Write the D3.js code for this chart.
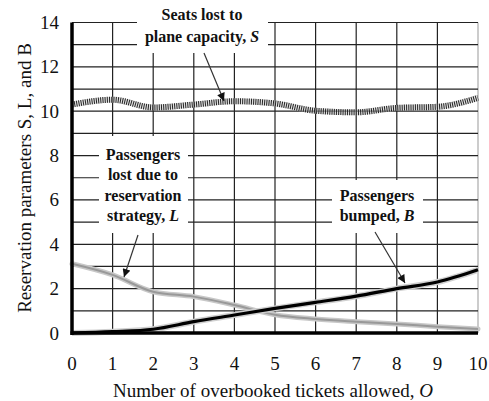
<!DOCTYPE html>
<html>
<head>
<meta charset="utf-8">
<script src="https://cdn.jsdelivr.net/npm/d3@7"></script>
<style>
  html, body { margin: 0; padding: 0; background: #fff; }
  svg { display: block; }
  text { font-family: "Liberation Serif", "Times New Roman", serif; fill: #111; }
</style>
</head>
<body>
<svg id="chart" width="489" height="401"></svg>
<script>
// ---- data ----
const overbooked = [0, 1, 2, 3, 4, 5, 6, 7, 8, 9, 10];
const seatsLostS = [10.3, 10.52, 10.17, 10.3, 10.45, 10.35, 10.02, 9.95, 10.15, 10.2, 10.6];
const passengersLostL = [3.12, 2.62, 1.86, 1.64, 1.26, 0.82, 0.63, 0.51, 0.41, 0.28, 0.18];
const passengersBumpedB = [0, 0.06, 0.17, 0.51, 0.81, 1.11, 1.38, 1.66, 2.0, 2.3, 2.85];
const xTicks = [0, 1, 2, 3, 4, 5, 6, 7, 8, 9, 10];
const yTicks = [0, 2, 4, 6, 8, 10, 12, 14];
const yGrid = d3.range(0, 15, 1);
const xTitle = "Number of overbooked tickets allowed, ";
const yTitle = "Reservation parameters S, L, and B";

// ---- layout ----
const svg = d3.select("#chart");
const x = d3.scaleLinear().domain([0, 10]).range([72, 478]);
const y = d3.scaleLinear().domain([0, 14]).range([333, 22.5]);

// grid
const grid = svg.append("g");
grid.selectAll("line.v").data(xTicks.slice(1)).join("line")
  .attr("x1", d => x(d)).attr("x2", d => x(d))
  .attr("y1", y(14)).attr("y2", y(0))
  .attr("stroke", d => d === 10 ? "#aaa" : "#222").attr("stroke-width", 1.2);
grid.selectAll("line.h").data(yGrid.slice(1)).join("line")
  .attr("x1", x(0)).attr("x2", x(10))
  .attr("y1", d => y(d)).attr("y2", d => y(d))
  .attr("stroke", "#222").attr("stroke-width", 1.2);

// annotation white boxes (cover grid)
const boxes = [
  {x0: 137, y0: 0, x1: 268, y1: 53},
  {x0: 99, y0: 136, x1: 188, y1: 233},
  {x0: 332, y0: 180, x1: 423, y1: 233}
];
svg.selectAll("rect.box").data(boxes).join("rect")
  .attr("x", d => d.x0).attr("y", d => d.y0)
  .attr("width", d => d.x1 - d.x0).attr("height", d => d.y1 - d.y0)
  .attr("fill", "#fff");

// lines
const line = (vals) => d3.line()
  .x((d, i) => x(overbooked[i]))
  .y(d => y(d))
  .curve(d3.curveMonotoneX)(vals);

// S: hatched band
svg.append("path").attr("d", line(seatsLostS))
  .attr("fill", "none").attr("stroke", "#ccc").attr("stroke-width", 6).attr("opacity", 0.6);
svg.append("path").attr("d", line(seatsLostS))
  .attr("fill", "none").attr("stroke", "#222").attr("stroke-width", 6)
  .attr("stroke-dasharray", "1,1.2");

// L: gray
svg.append("path").attr("d", line(passengersLostL))
  .attr("fill", "none").attr("stroke", "#c8c8c8").attr("stroke-width", 5).attr("stroke-linecap", "round");
svg.append("path").attr("d", line(passengersLostL))
  .attr("fill", "none").attr("stroke", "#999").attr("stroke-width", 2);

// B: black
svg.append("path").attr("d", line(passengersBumpedB))
  .attr("fill", "none").attr("stroke", "#d0d0d0").attr("stroke-width", 6);
svg.append("path").attr("d", line(passengersBumpedB))
  .attr("fill", "none").attr("stroke", "#000").attr("stroke-width", 3.2);

// axes (thick left/bottom)
svg.append("line").attr("x1", x(0)).attr("x2", x(0)).attr("y1", y(14)).attr("y2", y(0) + 2)
  .attr("stroke", "#000").attr("stroke-width", 3.5);
svg.append("line").attr("x1", x(0) - 1.5).attr("x2", x(10)).attr("y1", y(0)).attr("y2", y(0))
  .attr("stroke", "#000").attr("stroke-width", 3.5);

// tick labels
svg.selectAll("text.xt").data(xTicks).join("text")
  .attr("x", d => x(d)).attr("y", 370)
  .attr("text-anchor", "middle").attr("font-size", 19).text(d => d);
svg.selectAll("text.yt").data(yTicks).join("text")
  .attr("x", 59).attr("y", d => y(d) + 6.5)
  .attr("text-anchor", "end").attr("font-size", 19).text(d => d);

// axis titles
const xt = svg.append("text").attr("x", 273).attr("y", 397)
  .attr("text-anchor", "middle").attr("font-size", 19);
xt.append("tspan").text(xTitle);
xt.append("tspan").attr("font-style", "italic").text("O");
svg.append("text").attr("transform", "translate(31,178) rotate(-90)")
  .attr("text-anchor", "middle").attr("font-size", 19).text(yTitle);

// annotations
function label(cx, baselines, lines) {
  const t = svg.append("text").attr("text-anchor", "middle")
    .attr("font-size", 16).attr("font-weight", "bold");
  lines.forEach((ln, i) => {
    const ts = t.append("tspan").attr("x", cx).attr("y", baselines[i]);
    ts.append("tspan").text(ln[0]);
    if (ln[1]) ts.append("tspan").attr("font-style", "italic").text(ln[1]);
  });
}
label(202, [20, 42], [["Seats lost to"], ["plane capacity, ", "S"]]);
label(143, [159.5, 180, 200.5, 221], [["Passengers"], ["lost due to"], ["reservation"], ["strategy, ", "L"]]);
label(377, [200.5, 221], [["Passengers"], ["bumped, ", "B"]]);

// arrows
const defs = svg.append("defs");
defs.append("marker").attr("id", "ah").attr("viewBox", "0 0 10 10")
  .attr("refX", 10).attr("refY", 5).attr("markerWidth", 9).attr("markerHeight", 8)
  .attr("markerUnits", "userSpaceOnUse").attr("orient", "auto")
  .append("path").attr("d", "M0,0 L10,5 L0,10 Z").attr("fill", "#111");
const arrows = [
  {x1: 204, y1: 53, x2: 224, y2: 101},
  {x1: 138, y1: 235, x2: 124, y2: 277},
  {x1: 375, y1: 232, x2: 405, y2: 283}
];
svg.selectAll("line.arrow").data(arrows).join("line")
  .attr("x1", d => d.x1).attr("y1", d => d.y1)
  .attr("x2", d => d.x2).attr("y2", d => d.y2)
  .attr("stroke", "#333").attr("stroke-width", 1.2)
  .attr("marker-end", "url(#ah)");
</script>
</body>
</html>
